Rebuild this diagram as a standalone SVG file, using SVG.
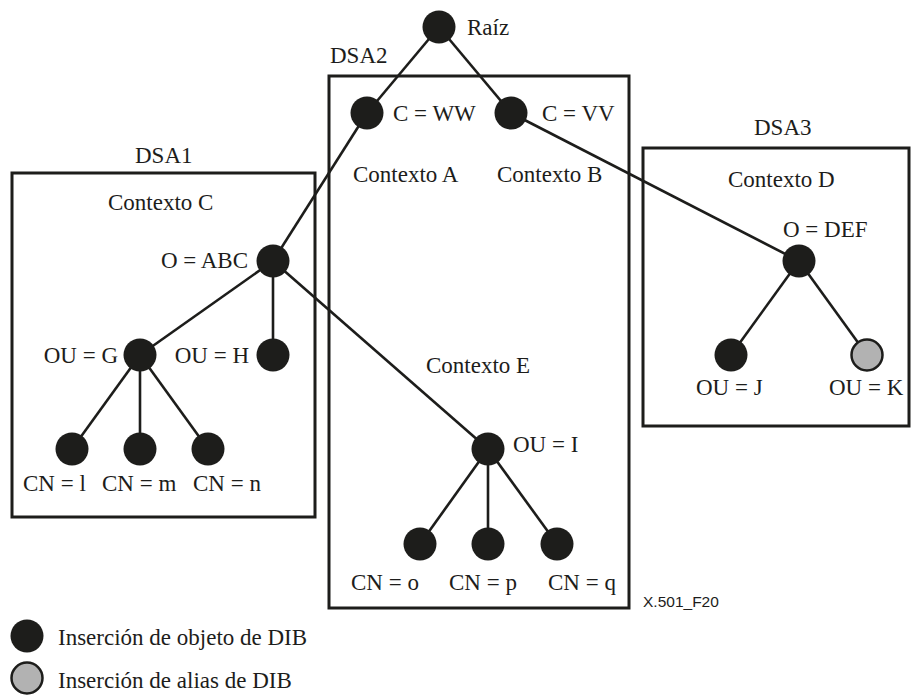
<svg xmlns="http://www.w3.org/2000/svg" width="911" height="695" viewBox="0 0 911 695">
  <style>
    .bg { fill: #ffffff; }
    .dsa { fill: none; stroke: #1d1d1b; stroke-width: 3; }
    .edge { stroke: #1d1d1b; stroke-width: 2.6; fill: none; }
    .entry { fill: #1d1d1b; }
    .alias { fill: #b2b2b2; stroke: #1d1d1b; stroke-width: 2.5; }
    text { font-family: "Liberation Serif", "Times New Roman", serif; font-size: 23px; fill: #1d1d1b; }
    .end { text-anchor: end; }
    .ref { font-family: "Liberation Sans", Arial, sans-serif; font-size: 15.5px; }
  </style>

  <rect class="bg" x="0" y="0" width="911" height="695"/>

  <!-- DSA boundaries -->
  <g id="dsa1">
    <rect class="dsa" x="12" y="173" width="303" height="344"/>
    <text x="135" y="163">DSA1</text>
    <text x="108" y="210">Contexto C</text>
  </g>
  <g id="dsa2">
    <rect class="dsa" x="329" y="76" width="300" height="532"/>
    <text x="330" y="63">DSA2</text>
    <text x="353" y="182">Contexto A</text>
    <text x="497" y="182">Contexto B</text>
    <text x="426" y="373">Contexto E</text>
  </g>
  <g id="dsa3">
    <rect class="dsa" x="643" y="148" width="266" height="278"/>
    <text x="754" y="135">DSA3</text>
    <text x="728" y="187">Contexto D</text>
  </g>

  <!-- tree edges -->
  <g id="connectors">
    <line class="edge" x1="439" y1="27" x2="367" y2="113"/>
    <line class="edge" x1="439" y1="27" x2="511" y2="113"/>
    <line class="edge" x1="367" y1="113" x2="273" y2="261"/>
    <line class="edge" x1="511" y1="113" x2="799" y2="261"/>
    <line class="edge" x1="273" y1="261" x2="140" y2="355"/>
    <line class="edge" x1="273" y1="261" x2="273" y2="355"/>
    <line class="edge" x1="273" y1="261" x2="488" y2="449"/>
    <line class="edge" x1="140" y1="355" x2="72" y2="449"/>
    <line class="edge" x1="140" y1="355" x2="140" y2="449"/>
    <line class="edge" x1="140" y1="355" x2="208" y2="449"/>
    <line class="edge" x1="488" y1="449" x2="420" y2="544"/>
    <line class="edge" x1="488" y1="449" x2="488" y2="544"/>
    <line class="edge" x1="488" y1="449" x2="557" y2="544"/>
    <line class="edge" x1="799" y1="261" x2="731" y2="355"/>
    <line class="edge" x1="799" y1="261" x2="867" y2="355"/>
  </g>

  <!-- directory entries -->
  <g id="root"><circle class="entry" cx="439" cy="27" r="16.5"/><text x="467" y="35">Raíz</text></g>
  <g id="c-ww"><circle class="entry" cx="367" cy="113" r="16.5"/><text x="393" y="121">C = WW</text></g>
  <g id="c-vv"><circle class="entry" cx="511" cy="113" r="16.5"/><text x="542" y="121">C = VV</text></g>
  <g id="o-abc"><circle class="entry" cx="273" cy="261" r="16.5"/><text class="end" x="248" y="268">O = ABC</text></g>
  <g id="ou-g"><circle class="entry" cx="140" cy="355" r="16.5"/><text class="end" x="118" y="363">OU = G</text></g>
  <g id="ou-h"><circle class="entry" cx="273" cy="355" r="16.5"/><text class="end" x="249" y="363">OU = H</text></g>
  <g id="cn-l"><circle class="entry" cx="72" cy="449" r="16.5"/><text x="23" y="491">CN = l</text></g>
  <g id="cn-m"><circle class="entry" cx="140" cy="449" r="16.5"/><text x="102" y="491">CN = m</text></g>
  <g id="cn-n"><circle class="entry" cx="208" cy="449" r="16.5"/><text x="193" y="491">CN = n</text></g>
  <g id="ou-i"><circle class="entry" cx="488" cy="449" r="16.5"/><text x="513" y="452">OU = I</text></g>
  <g id="cn-o"><circle class="entry" cx="420" cy="544" r="16.5"/><text x="351" y="590">CN = o</text></g>
  <g id="cn-p"><circle class="entry" cx="488" cy="544" r="16.5"/><text x="449" y="590">CN = p</text></g>
  <g id="cn-q"><circle class="entry" cx="557" cy="544" r="16.5"/><text x="548" y="590">CN = q</text></g>
  <g id="o-def"><circle class="entry" cx="799" cy="261" r="16.5"/><text x="783" y="237">O = DEF</text></g>
  <g id="ou-j"><circle class="entry" cx="731" cy="355" r="16.5"/><text x="696" y="395">OU = J</text></g>
  <g id="ou-k"><circle class="alias" cx="867" cy="355" r="15.5"/><text x="829" y="395">OU = K</text></g>

  <text class="ref" x="643" y="607">X.501_F20</text>

  <!-- key -->
  <g id="legend">
    <circle class="entry" cx="27" cy="636" r="16.5"/>
    <text x="58" y="645">Inserción de objeto de DIB</text>
    <circle class="alias" cx="27" cy="678" r="15.5"/>
    <text x="58" y="688">Inserción de alias de DIB</text>
  </g>
</svg>
